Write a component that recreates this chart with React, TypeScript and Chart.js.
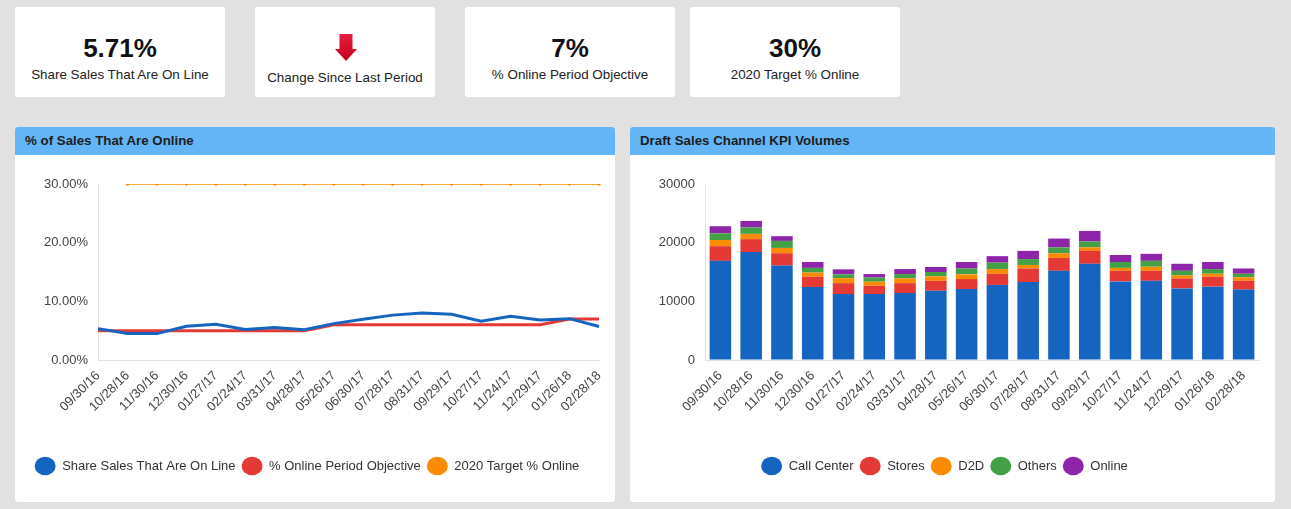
import React, { useEffect, useRef } from 'react';
import { Chart, registerables } from 'chart.js';

Chart.register(...registerables);

const FONT = '"Liberation Sans", Arial, Helvetica, sans-serif';

// ---- data ----
const dateLabels = ['09/30/16', '10/28/16', '11/30/16', '12/30/16', '01/27/17', '02/24/17', '03/31/17', '04/28/17', '05/26/17', '06/30/17', '07/28/17', '08/31/17', '09/29/17', '10/27/17', '11/24/17', '12/29/17', '01/26/18', '02/28/18'];

const shareOnline = [5.35, 4.5, 4.5, 5.75, 6.1, 5.2, 5.55, 5.15, 6.2, 6.95, 7.65, 8.0, 7.8, 6.6, 7.45, 6.8, 7.05, 5.71];
const periodObjective = [5, 5, 5, 5, 5, 5, 5, 5, 6, 6, 6, 6, 6, 6, 6, 6, 7, 7];
const target2020 = [null, 30, 30, 30, 30, 30, 30, 30, 30, 30, 30, 30, 30, 30, 30, 30, 30, 30];
const pctTicks = [0, 10, 20, 30];

const callCenter = [16900, 18400, 16100, 12450, 11250, 11250, 11400, 11800, 12100, 12800, 13300, 15200, 16400, 13400, 13500, 12200, 12500, 12000];
const stores = [2500, 2200, 2100, 1750, 1850, 1400, 1700, 1700, 1700, 1900, 2300, 2200, 2200, 1800, 1700, 1700, 1700, 1500];
const d2d = [1050, 900, 900, 700, 850, 700, 800, 750, 800, 800, 600, 800, 600, 500, 700, 500, 500, 600];
const others = [1150, 1100, 1200, 800, 650, 700, 750, 750, 1000, 1100, 1000, 1000, 1000, 1000, 1000, 800, 800, 600];
const online = [1200, 1100, 800, 1000, 850, 600, 850, 850, 1100, 1100, 1400, 1500, 1800, 1200, 1200, 1200, 1200, 900];
const volumeTicks = [0, 10000, 20000, 30000];

const kpis = [
  { value: '5.71%', label: 'Share Sales That Are On Line' },
  { value: '', label: 'Change Since Last Period' },
  { value: '7%', label: '% Online Period Objective' },
  { value: '30%', label: '2020 Target % Online' },
];

const BLUE = '#1565C0';
const RED = '#E53935';
const ORANGE = '#FB8C00';
const GREEN = '#43A047';
const PURPLE = '#8E24AA';

Chart.defaults.font.family = FONT;
Chart.defaults.font.size = 13;
Chart.defaults.color = '#444';

const legendOpts = {
  position: 'bottom' as const,
  labels: {
    usePointStyle: true,
    pointStyle: 'circle',
    pointStyleWidth: 21,
    padding: 6,
    color: '#333',
    font: { size: 13, family: FONT },
    generateLabels: (chart: any) =>
      Chart.defaults.plugins.legend.labels.generateLabels(chart).map((l: any) => ({ ...l, lineWidth: 0 })),
  },
};

const axisBase = {
  grid: { color: 'rgba(0,0,0,0)', drawTicks: false },
  border: { color: '#e2e2e2', width: 1 },
};

function LineChart() {
  const ref = useRef<HTMLCanvasElement>(null);
  useEffect(() => {
    const chart = new Chart(ref.current!, {
      type: 'line',
      data: {
        labels: dateLabels,
        datasets: [
          { label: 'Share Sales That Are On Line', data: shareOnline, borderColor: BLUE, backgroundColor: BLUE, borderWidth: 3, pointRadius: 0, tension: 0 },
          { label: '% Online Period Objective', data: periodObjective, borderColor: RED, backgroundColor: RED, borderWidth: 3, pointRadius: 0, tension: 0 },
          { label: '2020 Target % Online', data: target2020, borderColor: ORANGE, backgroundColor: ORANGE, borderWidth: 1.5, pointRadius: 1.8, pointBorderWidth: 0, tension: 0 },
        ],
      },
      options: {
        animation: false,
        responsive: true,
        maintainAspectRatio: false,
        layout: { padding: { left: 0, right: 16, top: 29, bottom: 19.5 } },
        plugins: { legend: legendOpts as any, tooltip: { enabled: false } },
        scales: {
          x: {
            ...axisBase,
            ticks: { minRotation: 45, maxRotation: 45, autoSkip: false, padding: 8, color: '#444' },
            afterFit: (s: any) => { s.height = 93.5; s.paddingRight = 0; s.paddingLeft = 0; },
          },
          y: {
            ...axisBase,
            min: 0,
            max: 30,
            ticks: { padding: 10, color: '#444', callback: (v: any) => Number(v).toFixed(2) + '%' },
            afterBuildTicks: (s: any) => { s.ticks = pctTicks.map((v) => ({ value: v })); },
            afterFit: (s: any) => { s.width = 83; },
          },
        },
      } as any,
    });
    return () => chart.destroy();
  }, []);
  return <canvas ref={ref} />;
}

function BarChart() {
  const ref = useRef<HTMLCanvasElement>(null);
  useEffect(() => {
    const mk = (label: string, data: number[], color: string) => ({
      label, data, backgroundColor: color, borderColor: color, borderWidth: 0,
      barPercentage: 0.7, categoryPercentage: 1.0,
    });
    const chart = new Chart(ref.current!, {
      type: 'bar',
      data: {
        labels: dateLabels,
        datasets: [
          mk('Call Center', callCenter, BLUE),
          mk('Stores', stores, RED),
          mk('D2D', d2d, ORANGE),
          mk('Others', others, GREEN),
          mk('Online', online, PURPLE),
        ],
      },
      options: {
        animation: false,
        responsive: true,
        maintainAspectRatio: false,
        layout: { padding: { left: 0, right: 16, top: 29, bottom: 19.5 } },
        plugins: { legend: legendOpts as any, tooltip: { enabled: false } },
        scales: {
          x: {
            ...axisBase,
            stacked: true,
            ticks: { minRotation: 45, maxRotation: 45, autoSkip: false, padding: 8, color: '#444' },
            afterFit: (s: any) => { s.height = 93.5; s.paddingRight = 0; s.paddingLeft = 0; },
          },
          y: {
            ...axisBase,
            stacked: true,
            min: 0,
            max: 30000,
            ticks: { padding: 10, color: '#444', callback: (v: any) => String(v) },
            afterBuildTicks: (s: any) => { s.ticks = volumeTicks.map((v) => ({ value: v })); },
            afterFit: (s: any) => { s.width = 75; },
          },
        },
      } as any,
    });
    return () => chart.destroy();
  }, []);
  return <canvas ref={ref} />;
}

function DownArrow() {
  return (
    <svg width="24" height="28" viewBox="0 0 24 28" style={{ position: 'absolute', left: 79, top: 27 }}>
      <defs>
        <linearGradient id="ag" x1="0" y1="0" x2="0" y2="1">
          <stop offset="0" stopColor="#ea1c3a" />
          <stop offset="1" stopColor="#c4001f" />
        </linearGradient>
      </defs>
      <polygon points="5.5,0 18.5,0 18.5,15 23,15 12,27 1,15 5.5,15" fill="url(#ag)" />
    </svg>
  );
}

const cardBox: React.CSSProperties = {
  position: 'absolute', top: 7, height: 90, background: '#fff', borderRadius: 3,
};

function Card({ left, width, idx }: { left: number; width: number; idx: number }) {
  const k = kpis[idx];
  const isArrow = idx === 1;
  return (
    <div style={{ ...cardBox, left, width }}>
      {!isArrow && (
        <div style={{ position: 'absolute', left: 0, right: 0, top: 28, height: 26, lineHeight: '26px', fontSize: 26, fontWeight: 'bold', color: '#111', textAlign: 'center' }}>{k.value}</div>
      )}
      {isArrow && <DownArrow />}
      <div style={{ position: 'absolute', left: 0, right: 0, top: isArrow ? 62.5 : 59.5, height: 15, lineHeight: '15px', fontSize: 13.4, color: '#222', textAlign: 'center' }}>{k.label}</div>
    </div>
  );
}

function Panel({ left, width, title, children }: { left: number; width: number; title: string; children: React.ReactNode }) {
  return (
    <div style={{ position: 'absolute', left, top: 127, width, height: 375, background: '#fff', borderRadius: 3, overflow: 'hidden' }}>
      <div style={{ position: 'absolute', left: 0, top: 0, width, height: 28, background: '#64B5F6' }}>
        <div style={{ position: 'absolute', left: 10, top: 6, lineHeight: '16px', fontSize: 13.3, fontWeight: 'bold', color: '#1d1d1d' }}>{title}</div>
      </div>
      <div style={{ position: 'absolute', left: 0, top: 28, width, height: 347 }}>{children}</div>
    </div>
  );
}

export default function App() {
  return (
    <div style={{ position: 'fixed', left: 0, top: 0, width: 1291, height: 509, background: '#e1e1e1', fontFamily: FONT, overflow: 'hidden' }}>
      <Card left={15} width={210} idx={0} />
      <Card left={255} width={180} idx={1} />
      <Card left={465} width={210} idx={2} />
      <Card left={690} width={210} idx={3} />
      <Panel left={15} width={600} title="% of Sales That Are Online">
        <LineChart />
      </Panel>
      <Panel left={630} width={645} title="Draft Sales Channel KPI Volumes">
        <BarChart />
      </Panel>
    </div>
  );
}
